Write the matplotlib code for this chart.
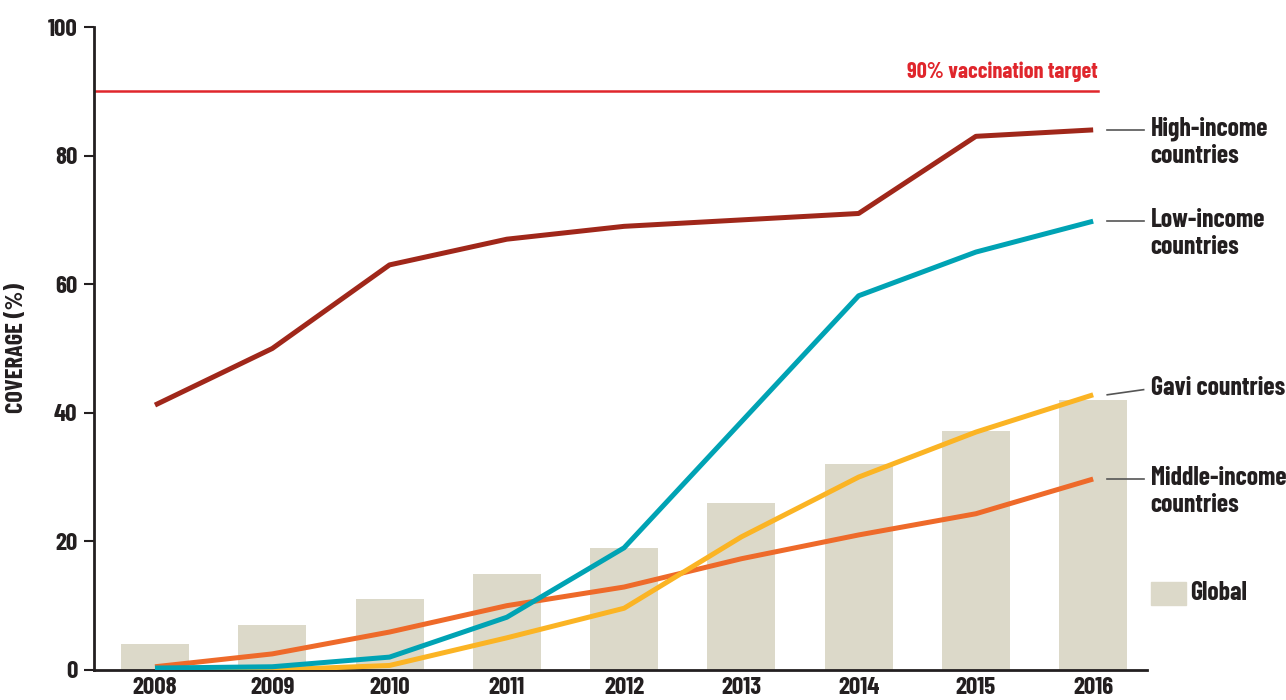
import matplotlib
matplotlib.use('Agg')
from matplotlib import pyplot as plt
from matplotlib.patches import Rectangle

plt.rcParams['font.family'] = ['Barlow Condensed', 'DejaVu Sans']
plt.rcParams['font.weight'] = 'bold'
plt.rcParams['axes.labelweight'] = 'bold'

years = [2008, 2009, 2010, 2011, 2012, 2013, 2014, 2015, 2016]
global_cov = [4, 7, 11, 15, 19, 26, 32, 37.2, 42]
high_income = [41.2, 50, 63, 67, 69, 70, 71, 83, 84]
low_income = [0.3, 0.5, 2, 8.2, 19, 38.6, 58.2, 65, 69.8]
gavi = [0, 0, 0.7, 5, 9.6, 20.7, 30, 37, 42.8]
middle_income = [0.5, 2.5, 5.9, 10, 12.9, 17.3, 21, 24.3, 29.7]
target = 90

DARK = '#231f20'
RED = '#e0262c'

fig = plt.figure(figsize=(12.86, 7), dpi=100)
ax = fig.add_axes([0.0731, 0.0429, 0.892 - 0.0731, 0.9614 - 0.0429])

ax.bar(years, global_cov, width=0.58, color='#dcd9c9', zorder=1)
ax.plot(years, high_income, color='#a0271a', lw=3.6, zorder=3, solid_capstyle='butt')
ax.plot(years, middle_income, color='#ee6a2a', lw=3.6, zorder=3, solid_capstyle='butt')
ax.plot(years, gavi, color='#fbb424', lw=3.6, zorder=4, solid_capstyle='butt')
ax.plot(years, low_income, color='#00a3b4', lw=3.6, zorder=5, solid_capstyle='butt')

ax.plot([2007.48, 2016.04], [target, target], color=RED, lw=1.8, zorder=2)
ax.text(2016.04, target + 1.5, '90% vaccination target', color=RED, fontsize=16,
        ha='right', va='bottom')

ax.set_xlim(2007.48, 2016.46)
ax.set_ylim(0, 100)
ax.set_yticks([0, 20, 40, 60, 80, 100])
ax.set_xticks(years)
ax.tick_params(axis='y', length=7, width=1.5, color=DARK, labelsize=18, labelcolor=DARK, pad=5)
ax.tick_params(axis='x', length=0, labelsize=18, labelcolor=DARK, pad=5)
for s in ['top', 'right']:
    ax.spines[s].set_visible(False)
for s in ['left', 'bottom']:
    ax.spines[s].set_linewidth(2)
    ax.spines[s].set_color(DARK)
ax.set_ylabel('COVERAGE (%)', fontsize=17.5, color=DARK, fontweight='bold', labelpad=14)

# right-side labels
labels = [
    ('High-income\ncountries', high_income[-1], high_income[-1], 2),
    ('Low-income\ncountries', low_income[-1], low_income[-1], 2),
    ('Gavi countries', gavi[-1], gavi[-1] + 0.8, 1),
    ('Middle-income\ncountries', middle_income[-1], middle_income[-1], 2),
]
for txt, y0, y1, nlines in labels:
    ax.plot([2016.12, 2016.43], [y0, y1], color='#555555', lw=1.2, clip_on=False)
    ty = y1 - 1.9 if nlines == 2 else y1 + 0.2
    ax.text(2016.49, ty, txt, fontsize=18.5, color=DARK, ha='left', va='center',
            linespacing=1.15, clip_on=False)

ax.add_patch(Rectangle((2016.49, 10.1), 0.3, 3.6, color='#dcd9c9', clip_on=False))
ax.text(2016.83, 11.9, 'Global', fontsize=18.5, color=DARK, ha='left', va='center')

fig.savefig('out.png', dpi=100)
